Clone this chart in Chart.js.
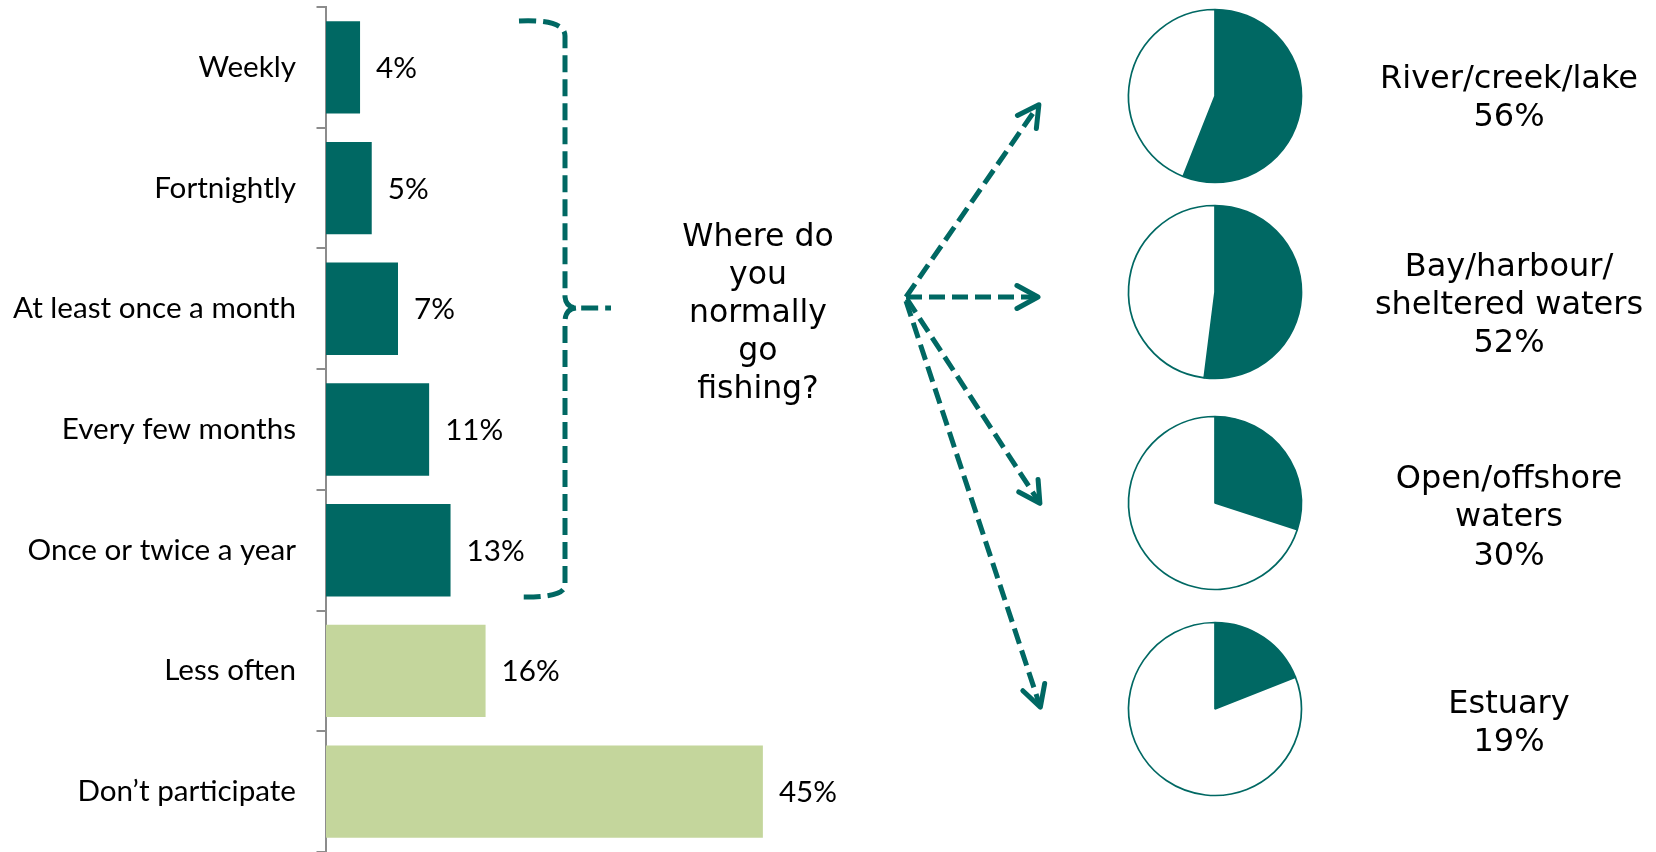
<!DOCTYPE html>
<html><head><meta charset="utf-8">
<script src="https://cdn.jsdelivr.net/npm/chart.js@4.4.1/dist/chart.umd.min.js"></script>
<style>
html,body{margin:0;padding:0;background:#fff;}
#wrap{position:relative;width:1656px;height:852px;overflow:hidden;background:#fff;}
#bar{position:absolute;left:0;top:0;}
.pie{position:absolute;}
.lbl{position:absolute;font-family:"DejaVu Sans";font-size:32px;line-height:38.3px;text-align:center;color:#000;white-space:nowrap;transform:translateX(-50%);}
#question{position:absolute;font-family:"DejaVu Sans";font-size:31.5px;line-height:38.1px;text-align:center;color:#000;white-space:nowrap;transform:translateX(-50%);}
</style></head><body>
<div id="wrap">
  <canvas id="bar" width="1656" height="852"></canvas>
</div>
<script>
// ---------- data ----------
const categories = ["Weekly","Fortnightly","At least once a month","Every few months","Once or twice a year","Less often","Don\u2019t participate"];
const frequencyValues = [3.5, 4.7, 7.4, 10.6, 12.8, 16.4, 44.9];
const frequencyLabels = ["4%","5%","7%","11%","13%","16%","45%"];
const fisherCategoryCount = 5; // first five categories are people who fish

const questionLines = ["Where do","you","normally","go","fishing?"];
const locationNames = [["River/creek/lake"],["Bay/harbour/","sheltered waters"],["Open/offshore","waters"],["Estuary"]];
const locationValues = [56, 52, 30, 19];
const locationLabels = ["56%","52%","30%","19%"];

// ---------- style ----------
const TEAL = "#006863";
const GREEN = "#C4D69C";
const AXIS = "#8c8c8c";
const AXIS_LEFT = 326;
const PX_PER_PCT = 9.73;
const X_MAX = 60;

// font size for Calibri-like labels, calibrated on width
const mctx = document.createElement('canvas').getContext('2d');
mctx.font = '100px Lato';
const tickFontSize = 100 * 283 / mctx.measureText('At least once a month').width;

const overlay = {
  id: 'overlay',
  afterDatasetsDraw(chart) {
    const ctx = chart.ctx;
    const meta = chart.getDatasetMeta(0);
    ctx.save();
    ctx.fillStyle = '#000';
    ctx.font = tickFontSize + 'px Lato';
    ctx.textBaseline = 'middle';
    ctx.textAlign = 'left';
    meta.data.forEach((bar, i) => {
      ctx.fillText(frequencyLabels[i], bar.x + 16, bar.y + 1);
    });
    ctx.restore();
  },
  afterDraw(chart) {
    const ctx = chart.ctx;
    ctx.save();
    ctx.strokeStyle = TEAL;
    ctx.lineWidth = 5;
    ctx.lineCap = 'butt';
    // bracket
    ctx.setLineDash([17, 7]);
    ctx.beginPath();
    ctx.moveTo(519, 21);
    ctx.quadraticCurveTo(565, 19, 565, 36);
    ctx.lineTo(565, 297);
    ctx.quadraticCurveTo(566, 308, 578, 308);
    ctx.lineTo(611, 308);
    ctx.stroke();
    ctx.beginPath();
    ctx.moveTo(576, 308);
    ctx.quadraticCurveTo(565, 309, 565, 322);
    ctx.lineTo(565, 585);
    ctx.quadraticCurveTo(565, 598, 519, 597);
    ctx.stroke();
    // arrows
    const arrows = [[906,297,1040,103],[906,297,1040,297],[907,299,1041,505],[906,301,1041,709]];
    arrows.forEach(([x1,y1,x2,y2]) => {
      const a = Math.atan2(y2-y1, x2-x1);
      ctx.setLineDash([16, 7]);
      ctx.lineCap = 'butt';
      ctx.beginPath();
      ctx.moveTo(x1, y1);
      ctx.lineTo(x2 - 4*Math.cos(a), y2 - 4*Math.sin(a));
      ctx.stroke();
      ctx.setLineDash([]);
      ctx.lineCap = 'round';
      ctx.lineJoin = 'round';
      const L = 24, ang = 0.5;
      const tx = x2 - 2*Math.cos(a), ty = y2 - 2*Math.sin(a);
      ctx.beginPath();
      ctx.moveTo(tx - L*Math.cos(a-ang), ty - L*Math.sin(a-ang));
      ctx.lineTo(tx, ty);
      ctx.lineTo(tx - L*Math.cos(a+ang), ty - L*Math.sin(a+ang));
      ctx.stroke();
    });
    ctx.restore();
  }
};

new Chart(document.getElementById('bar'), {
  type: 'bar',
  data: {
    labels: categories,
    datasets: [{
      data: frequencyValues,
      backgroundColor: frequencyValues.map((v, i) => i < fisherCategoryCount ? TEAL : GREEN),
      borderWidth: 0,
      barPercentage: 0.765,
      categoryPercentage: 1
    }]
  },
  options: {
    indexAxis: 'y',
    responsive: false,
    animation: false,
    layout: { autoPadding: false, padding: { top: 7, left: 0, bottom: 0, right: 1656 - AXIS_LEFT - PX_PER_PCT * X_MAX } },
    scales: {
      x: { display: false, min: 0, max: X_MAX },
      y: {
        grid: { drawOnChartArea: false, drawTicks: true, tickLength: 9.5, color: AXIS, lineWidth: 2, offset: true },
        border: { display: true, color: AXIS, width: 2 },
        ticks: { font: { family: 'Lato', size: tickFontSize }, color: '#000', padding: 20.5, autoSkip: false },
        afterFit(scale) {
          scale.width = AXIS_LEFT;
          scale.paddingTop = 0; scale.paddingBottom = 0;
          scale.paddingLeft = 0; scale.paddingRight = 0;
        }
      }
    },
    plugins: { legend: { display: false }, tooltip: { enabled: false }, title: { display: false } }
  },
  plugins: [overlay]
});

// question text
const wrap = document.getElementById('wrap');
const q = document.createElement('div');
q.id = 'question';
q.style.left = '758px';
q.style.top = '216px';
q.innerHTML = questionLines.join('<br>');
wrap.appendChild(q);

// pies
const pieCentersY = [95.5, 291.7, 503.3, 708.8];
const labelTops = [58, 245.8, 458, 683];
locationValues.forEach((v, i) => {
  const c = document.createElement('canvas');
  c.className = 'pie';
  c.width = 190; c.height = 190;
  c.style.left = (1215 - 95) + 'px';
  c.style.top = (pieCentersY[i] - 95) + 'px';
  wrap.appendChild(c);
  new Chart(c, {
    type: 'pie',
    data: {
      labels: ['Yes', 'No'],
      datasets: [{
        data: [v, 100 - v],
        backgroundColor: [TEAL, '#ffffff'],
        borderColor: TEAL,
        borderWidth: 1.7,
        radius: 86.5
      }]
    },
    options: {
      responsive: false,
      animation: false,
      layout: { padding: 0 },
      plugins: { legend: { display: false }, tooltip: { enabled: false } }
    }
  });
  const d = document.createElement('div');
  d.className = 'lbl';
  d.style.left = '1509px';
  d.style.top = labelTops[i] + 'px';
  d.innerHTML = locationNames[i].concat([locationLabels[i]]).join('<br>');
  wrap.appendChild(d);
});
</script>
</body></html>
